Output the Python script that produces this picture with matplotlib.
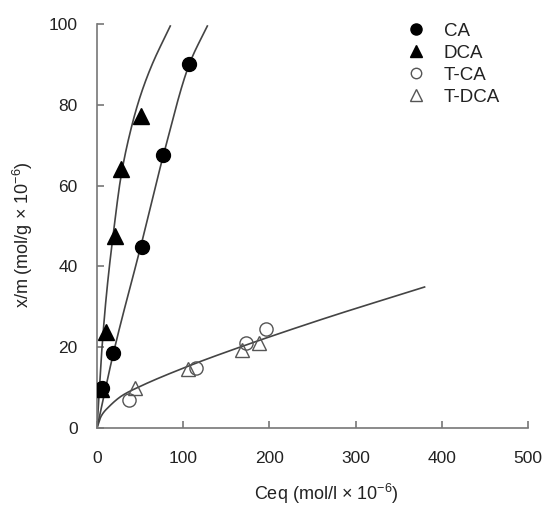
import numpy as np
import matplotlib
matplotlib.use("Agg")
import matplotlib.pyplot as plt
from matplotlib.lines import Line2D

plt.rcParams['font.family'] = ['Liberation Sans', 'DejaVu Sans']
plt.rcParams['mathtext.fontset'] = 'custom'
plt.rcParams['mathtext.rm'] = 'Liberation Sans'
plt.rcParams['mathtext.default'] = 'regular'

# measured points
ca_x = [6, 19, 52, 77, 107]
ca_y = [9.8, 18.5, 44.8, 67.6, 90.1]
dca_x = [4.5, 10.5, 20.5, 28, 51]
dca_y = [9.6, 23.8, 47.6, 64, 77.3]
tca_x = [37, 115, 173, 196]
tca_y = [6.9, 14.8, 21.1, 24.5]
tdca_x = [44, 105, 168, 188]
tdca_y = [10.0, 14.6, 19.3, 21.0]

# fitted isotherm curves (sampled from the figure)
ca_fit_x = [0, 19, 52, 77, 107, 128]
ca_fit_y = [0, 18.5, 46, 67.5, 90, 99.5]
dca_fit_x = [0, 5, 10.5, 20, 28, 40, 50, 63, 85]
dca_fit_y = [0, 17.5, 32, 50, 62.5, 74.5, 82, 89.5, 99.5]
t_fit_x = [0, 5, 14, 29, 49, 107, 142, 258, 380]
t_fit_y = [0, 3, 5.3, 8.0, 10.2, 15.4, 18.2, 26.7, 34.9]

xticks = [0, 100, 200, 300, 400, 500]
yticks = [0, 20, 40, 60, 80, 100]


def pchip(x, y, xn):
    x = np.asarray(x, float); y = np.asarray(y, float)
    h = np.diff(x); d = np.diff(y) / h
    n = len(x)
    m = np.zeros(n)
    m[0] = d[0]; m[-1] = d[-1]
    for k in range(1, n - 1):
        if d[k - 1] * d[k] > 0:
            w1 = 2 * h[k] + h[k - 1]
            w2 = h[k] + 2 * h[k - 1]
            m[k] = (w1 + w2) / (w1 / d[k - 1] + w2 / d[k])
    idx = np.clip(np.searchsorted(x, xn) - 1, 0, n - 2)
    t = (xn - x[idx]) / h[idx]
    h00 = 2 * t**3 - 3 * t**2 + 1
    h10 = t**3 - 2 * t**2 + t
    h01 = -2 * t**3 + 3 * t**2
    h11 = t**3 - t**2
    return h00 * y[idx] + h10 * h[idx] * m[idx] + h01 * y[idx + 1] + h11 * h[idx] * m[idx + 1]


W, H = 542, 505
fig = plt.figure(figsize=(W / 100, H / 100), dpi=100)
ax = fig.add_axes([97 / W, 1 - 428 / H, (528 - 97) / W, (428 - 24) / H])

line_c = '#444444'
for fx, fy in [(ca_fit_x, ca_fit_y), (dca_fit_x, dca_fit_y), (t_fit_x, t_fit_y)]:
    xs = np.linspace(fx[0], fx[-1], 400)
    ax.plot(xs, pchip(fx, fy, xs), color=line_c, lw=1.2, zorder=2)

gray = '#555555'
ax.plot(ca_x, ca_y, 'o', ms=10, color='black', zorder=3)
ax.plot(dca_x, dca_y, '^', ms=11, color='black', zorder=3)
ax.plot(tca_x, tca_y, 'o', ms=9.5, mfc='none', mec=gray, mew=1.0, zorder=3)
ax.plot(tdca_x, tdca_y, '^', ms=10.5, mfc='none', mec=gray, mew=1.0, zorder=3)

ax.set_xlim(0, 500)
ax.set_ylim(0, 100)
ax.set_xticks(xticks)
ax.set_yticks(yticks)
for s in ['top', 'right']:
    ax.spines[s].set_visible(False)
for s in ['left', 'bottom']:
    ax.spines[s].set_color('#777777')
    ax.spines[s].set_linewidth(1.2)
ax.tick_params(axis='both', direction='in', length=5, width=1.2, color='#777777',
               labelsize=12.5, labelcolor='#222222')
ax.tick_params(axis='x', pad=16.5)
ax.tick_params(axis='y', pad=14)

fig.text(326 / W, 1 - 500 / H, 'Ceq (mol/l × 10$^{-6}$)', fontsize=13,
         color='#222222', ha='center', va='baseline')
fig.text(23 / W, 1 - 235 / H, 'x/m (mol/g × 10$^{-6}$)', fontsize=13,
         color='#222222', ha='center', va='center', rotation=90)

handles = [
    Line2D([], [], ls='none', marker='o', ms=8, color='black'),
    Line2D([], [], ls='none', marker='^', ms=8.5, color='black'),
    Line2D([], [], ls='none', marker='o', ms=7.5, mfc='none', mec=gray, mew=1.0),
    Line2D([], [], ls='none', marker='^', ms=8.5, mfc='none', mec=gray, mew=1.0),
]
leg = ax.legend(handles, ['CA', 'DCA', 'T-CA', 'T-DCA'], loc='upper left',
                bbox_to_anchor=(397 / W, 1 - 13 / H), bbox_transform=fig.transFigure,
                frameon=False, fontsize=13.5, handlelength=1.0, handletextpad=1.0,
                labelspacing=0.26, borderpad=0)
for t in leg.get_texts():
    t.set_color('#222222')

fig.savefig('out.png', dpi=100)
